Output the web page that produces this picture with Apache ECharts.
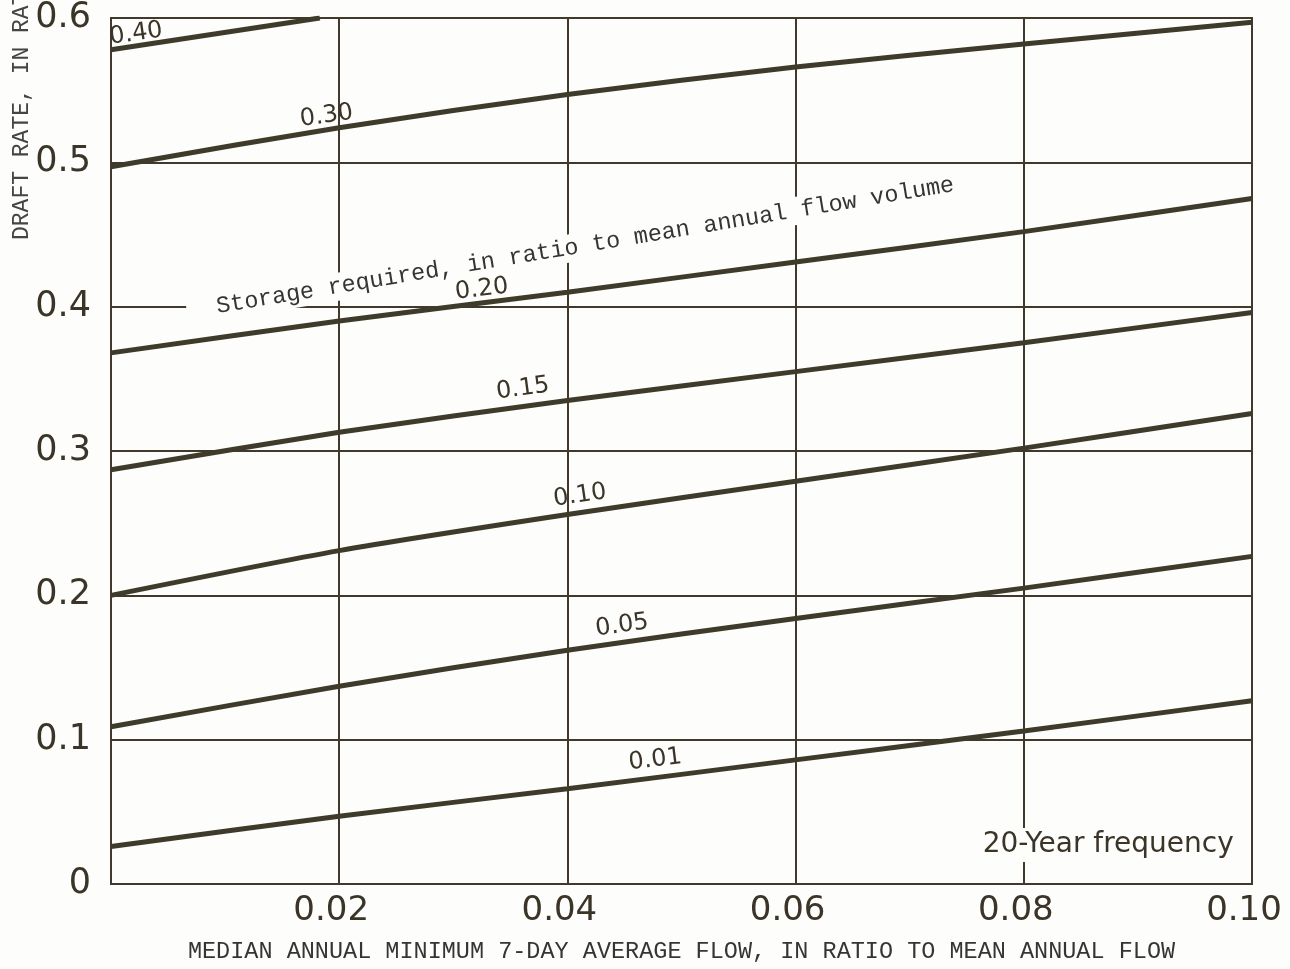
<!DOCTYPE html>
<html><head><meta charset="utf-8">
<script src="https://cdn.jsdelivr.net/npm/echarts@6/dist/echarts.min.js"></script>
<style>html,body{margin:0;padding:0;background:#fdfdfb;}#c{width:1290px;height:969px;}</style>
</head><body><div id="c"></div>
<script>
// ---- data ----
const xValues = [0, 0.02, 0.04, 0.06, 0.08, 0.10];
const s001 = [0.026, 0.047, 0.066, 0.086, 0.106, 0.127];
const s005 = [0.109, 0.137, 0.162, 0.184, 0.205, 0.227];
const s010 = [0.200, 0.231, 0.256, 0.279, 0.302, 0.326];
const s015 = [0.287, 0.313, 0.335, 0.355, 0.375, 0.396];
const s020 = [0.368, 0.390, 0.410, 0.431, 0.452, 0.475];
const s030 = [0.497, 0.524, 0.547, 0.566, 0.582, 0.597];
const s040X = [0, 0.0183];
const s040 = [0.578, 0.600];

// curve labels (storage ratio) and where they sit, in data units
const labelText = ['0.40', '0.30', '0.20', '0.15', '0.10', '0.05', '0.01'];
const labelX = [0.0022, 0.0189, 0.0325, 0.0361, 0.0411, 0.0448, 0.0477];
const labelY = [0.589, 0.532, 0.412, 0.343, 0.269, 0.179, 0.086];
const labelAngle = [8, 8, 7, 7.5, 8.5, 8, 7];

const noteText = 'Storage required, in ratio to mean annual flow volume';
const noteX = [0.0407];
const noteY = [0.441];
const freqText = '20-Year frequency';
const freqX = [0.0874];
const freqY = [0.027];

const xTitle = 'MEDIAN ANNUAL MINIMUM 7-DAY AVERAGE FLOW, IN RATIO TO MEAN ANNUAL FLOW';
const yTitle = 'DRAFT RATE, IN RATIO TO MEAN ANNUAL FLOW';

// ---- chart ----
const ink = '#3b3428';
const gridInk = '#40392c';
const curveInk = '#3f3b2b';
const roundFont = '"DejaVu Sans", "Noto Sans", sans-serif';
const monoFont = '"Liberation Mono", "DejaVu Sans Mono", monospace';

function pairs(xs, ys) { return xs.map((x, i) => [x, ys[i]]); }
const curves = [s001, s005, s010, s015, s020, s030];
const curveNames = ['0.01', '0.05', '0.10', '0.15', '0.20', '0.30'];

const series = curves.map((ys, i) => ({
  name: curveNames[i], type: 'line', data: pairs(xValues, ys),
  showSymbol: false, smooth: 0.25, silent: true,
  lineStyle: { color: curveInk, width: 5 }, z: 3
}));
series.push({
  name: '0.40', type: 'line', data: pairs(s040X, s040),
  showSymbol: false, silent: true,
  lineStyle: { color: curveInk, width: 5 }, z: 3
});

const hiddenItem = { color: 'rgba(0,0,0,0)', opacity: 1 };
// annotation texts (with paper-coloured background that breaks the grid lines)
series.push({
  type: 'scatter', silent: true, symbolSize: 1, itemStyle: hiddenItem, z: 4,
  data: [{
    value: [noteX[0], noteY[0]],
    label: { show: true, position: 'inside', formatter: noteText, rotate: 9.4,
      fontFamily: monoFont, fontSize: 23.5, color: '#353535',
      backgroundColor: '#fdfdfb', padding: [2, 10, 2, 30] }
  }, {
    value: [freqX[0], freqY[0]],
    label: { show: true, position: 'inside', formatter: freqText,
      fontFamily: roundFont, fontSize: 28, color: ink,
      backgroundColor: '#fdfdfb', padding: [3, 6] }
  }]
});
// curve labels
series.push({
  type: 'scatter', silent: true, symbolSize: 1, itemStyle: hiddenItem, z: 7,
  data: labelText.map((t, i) => ({
    value: [labelX[i], labelY[i]],
    label: { show: true, position: 'inside', formatter: t, rotate: labelAngle[i],
      fontFamily: roundFont, fontSize: 24, color: ink }
  }))
});

const chart = echarts.init(document.getElementById('c'), null, { renderer: 'canvas' });
chart.setOption({
  backgroundColor: '#fdfdfb',
  animation: false,
  grid: { left: 111, right: 38, top: 18, bottom: 82, show: true,
    borderColor: gridInk, borderWidth: 2, backgroundColor: 'transparent' },
  xAxis: {
    type: 'value', min: 0, max: 0.1, interval: 0.02,
    name: xTitle, nameLocation: 'middle', nameGap: 56,
    nameTextStyle: { fontFamily: monoFont, fontSize: 23.5, color: '#353535' },
    axisLine: { show: true, lineStyle: { color: gridInk, width: 2 } },
    axisTick: { show: false },
    axisLabel: { margin: 10, fontFamily: roundFont, fontSize: 34, color: ink,
      padding: [0, 16, 0, 0],
      formatter: v => v === 0 ? '' : v.toFixed(2) },
    splitLine: { show: true, lineStyle: { color: gridInk, width: 2 } }
  },
  yAxis: {
    type: 'value', min: 0, max: 0.6, interval: 0.1,
    axisLine: { show: true, lineStyle: { color: gridInk, width: 2 } },
    axisTick: { show: false },
    axisLabel: { margin: 20, fontFamily: roundFont, fontSize: 35, color: ink,
      formatter: v => v === 0 ? '0' : v.toFixed(1) },
    splitLine: { show: true, lineStyle: { color: gridInk, width: 2 } }
  },
  graphic: [{
    type: 'text', x: 22, y: 240, rotation: Math.PI / 2, silent: true,
    style: { text: yTitle, font: '23px ' + monoFont, fill: '#454545',
      textAlign: 'left', textVerticalAlign: 'middle' }
  }],
  series: series
});
</script></body></html>
